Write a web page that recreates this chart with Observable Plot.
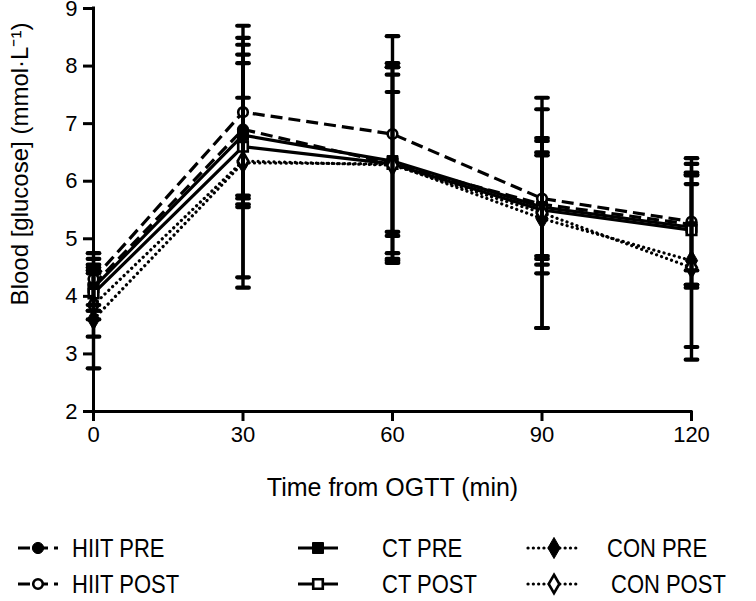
<!DOCTYPE html>
<html><head><meta charset="utf-8">
<script src="https://cdn.jsdelivr.net/npm/d3@7"></script>
<script src="https://cdn.jsdelivr.net/npm/@observablehq/plot@0.6"></script>
<style>
body{margin:0;background:#fff;}
#chart{width:756px;height:601px;overflow:hidden;font-family:"Liberation Sans",Arial,sans-serif;background:#fff;}
#chart svg{display:block;}
</style></head><body><div id="chart"></div>
<script>
// ---- data ----
const times = [0, 30, 60, 90, 120];
const xTicks = [0, 30, 60, 90, 120];
const yTicks = [2, 3, 4, 5, 6, 7, 8, 9];
const groupNames = ["HIIT PRE", "HIIT POST", "CT PRE", "CT POST", "CON PRE", "CON POST"];

const hiitPreMean  = [4.20, 6.90, 6.30, 5.60, 5.25];
const hiitPreSD    = [0.45, 1.30, 1.25, 0.90, 1.05];
const hiitPostMean = [4.30, 7.20, 6.82, 5.70, 5.30];
const hiitPostSD   = [0.45, 1.50, 1.70, 1.05, 1.10];
const ctPreMean    = [4.15, 6.80, 6.35, 5.55, 5.20];
const ctPreSD      = [0.40, 1.25, 1.70, 1.15, 0.75];
const ctPostMean   = [4.05, 6.60, 6.30, 5.50, 5.15];
const ctPostSD     = [0.45, 0.85, 1.55, 0.95, 1.00];
const conPreMean   = [3.60, 6.32, 6.30, 5.35, 4.62];
const conPreSD     = [0.85, 2.17, 1.68, 1.90, 1.50];
const conPostMean  = [3.85, 6.35, 6.28, 5.45, 4.50];
const conPostSD    = [0.55, 2.02, 1.70, 2.00, 1.60];

const xLabel = "Time from OGTT (min)";
const yLabel = "Blood [glucose] (mmol\u00B7L\u207B\u00B9)";

// ---- styles per group ----
const means = [hiitPreMean, hiitPostMean, ctPreMean, ctPostMean, conPreMean, conPostMean];
const sds = [hiitPreSD, hiitPostSD, ctPreSD, ctPostSD, conPreSD, conPostSD];
const dashes = {HIIT: "12,6", CT: null, CON: "0.1,5.2"};
const symbols = {HIIT: "circle", CT: "square", CON: "diamond"};
const symR = {HIIT: 5.6, CT: 6.2, CON: 6.4};

const rows = [];
groupNames.forEach((g, gi) => {
  times.forEach((t, ti) => {
    const m = means[gi][ti], s = sds[gi][ti];
    rows.push({group: g, kind: g.split(" ")[0], post: g.endsWith("POST"), time: t, mean: m, lo: m - s, hi: m + s});
  });
});

const capSymbol = {draw(ctx, size) { const r = Math.sqrt(size / Math.PI); ctx.moveTo(-r, 0); ctx.lineTo(r, 0); }};

const marks = [];
// lines
groupNames.forEach(g => {
  const kind = g.split(" ")[0];
  marks.push(Plot.line(rows.filter(d => d.group === g), {
    x: "time", y: "mean", stroke: "black", strokeWidth: 3.2,
    strokeDasharray: dashes[kind], strokeLinecap: kind === "CON" ? "round" : "butt"
  }));
});
// markers
["HIIT", "CT", "CON"].forEach(kind => {
  marks.push(Plot.dot(rows.filter(d => d.kind === kind && !d.post), {
    x: "time", y: "mean", symbol: symbols[kind], r: symR[kind], fill: "black", stroke: "black", strokeWidth: 1
  }));
  marks.push(Plot.dot(rows.filter(d => d.kind === kind && d.post), {
    x: "time", y: "mean", symbol: symbols[kind], r: symR[kind] - 0.8, fill: "white", stroke: "black", strokeWidth: 2.6
  }));
});
// error bars
marks.push(Plot.ruleX(rows, {x: "time", y1: "lo", y2: "hi", stroke: "black", strokeWidth: 3.4}));
marks.push(Plot.dot(rows, {x: "time", y: "lo", symbol: capSymbol, r: 5.8, fill: "none", stroke: "black", strokeWidth: 4.2, strokeLinecap: "round"}));
marks.push(Plot.dot(rows, {x: "time", y: "hi", symbol: capSymbol, r: 5.8, fill: "none", stroke: "black", strokeWidth: 4.2, strokeLinecap: "round"}));
// axes
marks.push(Plot.ruleX([0], {y1: 2, y2: 9, stroke: "black", strokeWidth: 3, strokeLinecap: "square"}));
marks.push(Plot.ruleY([2], {x1: 0, x2: 120, stroke: "black", strokeWidth: 3, strokeLinecap: "square"}));
marks.push(Plot.axisX(xTicks, {tickSize: 10, tickPadding: 5, strokeWidth: 3, label: null, fontSize: 22, fill: "black", tickFormat: "d"}));
marks.push(Plot.axisY(yTicks, {tickSize: 10, tickPadding: 6, strokeWidth: 3, label: null, fontSize: 22, fill: "black", tickFormat: "d"}));
marks.push(Plot.text([xLabel], {frameAnchor: "bottom", dy: 84, fontSize: 25, fill: "black"}));
marks.push(Plot.text([yLabel], {frameAnchor: "left", textAnchor: "middle", rotate: -90, dx: -73, dy: -46, fontSize: 24, fill: "black"}));

const chart = Plot.plot({
  width: 756, height: 520,
  marginLeft: 93, marginRight: 65, marginTop: 8, marginBottom: 109,
  x: {domain: [0, 120]},
  y: {domain: [2, 9]},
  style: {fontFamily: "'Liberation Sans', Arial, sans-serif", fontSize: "22px", background: "white", color: "black", overflow: "visible"},
  marks
});
document.getElementById("chart").appendChild(chart);

// ---- legend ----
const legendCols = [
  {kind: "HIIT", sx: 18, tx: 72},
  {kind: "CT", sx: 298, tx: 382},
  {kind: "CON", sx: 528, tx: 607}
];
const rowY = [28, 64];
const lg = d3.create("svg").attr("width", 756).attr("height", 81)
  .style("font-family", "'Liberation Sans', Arial, sans-serif");
groupNames.forEach((g, gi) => {
  const kind = g.split(" ")[0];
  const post = g.endsWith("POST");
  const col = legendCols.find(c => c.kind === kind);
  const y = rowY[post ? 1 : 0];
  const w = kind === "CON" ? 52 : 40;
  const cx = col.sx + w / 2;
  const line = lg.append("line").attr("x1", col.sx).attr("x2", col.sx + w).attr("y1", y).attr("y2", y)
    .attr("stroke", "black").attr("stroke-width", 3.2);
  if (dashes[kind]) line.attr("stroke-dasharray", dashes[kind]);
  if (kind === "CON") line.attr("stroke-linecap", "round");
  const symType = {circle: d3.symbolCircle, square: d3.symbolSquare, diamond: d3.symbolDiamond}[symbols[kind]];
  const r = post ? symR[kind] - 0.8 : symR[kind];
  lg.append("path").attr("d", d3.symbol(symType, Math.PI * r * r)())
    .attr("transform", `translate(${cx},${y})`)
    .attr("fill", post ? "white" : "black").attr("stroke", "black").attr("stroke-width", post ? 2.6 : 1);
  const tx = col.tx + (kind === "CON" && post ? 4 : 0);
  lg.append("text").attr("transform", `translate(${tx},${y}) scale(0.88,1)`).attr("dy", "0.36em")
    .attr("font-size", 25).attr("fill", "black").text(g);
});
document.getElementById("chart").appendChild(lg.node());
</script>
</body></html>
